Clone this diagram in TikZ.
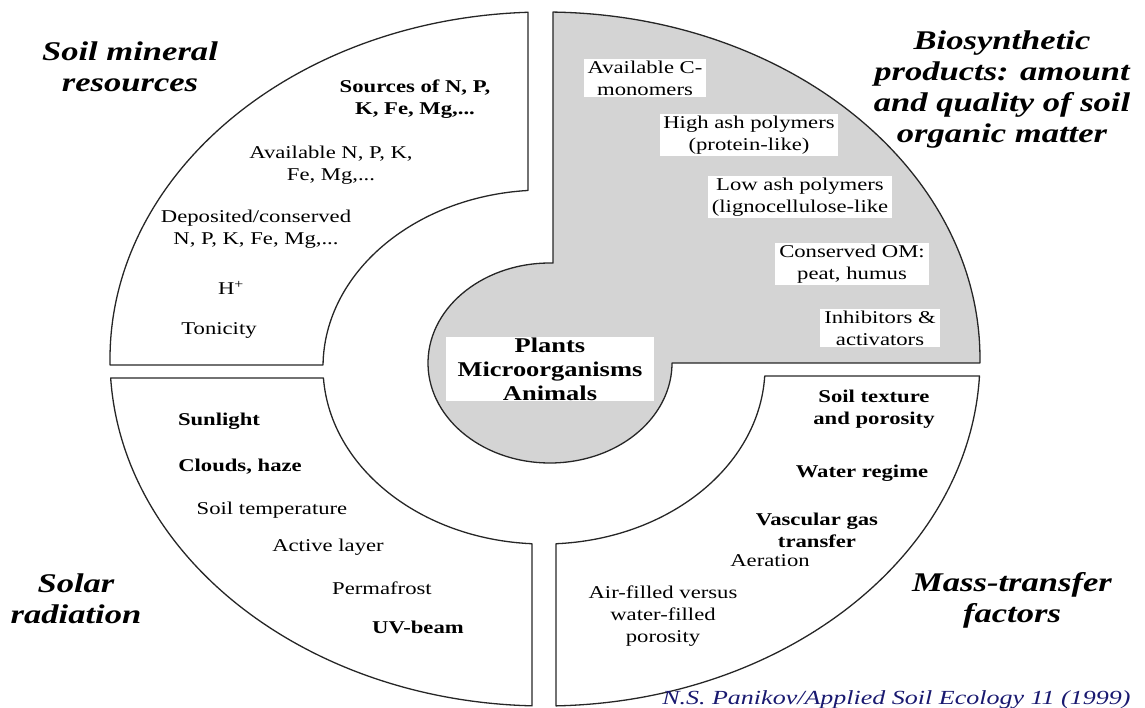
\documentclass[tikz,border=0pt]{standalone}
\usepackage{fontspec}
\setmainfont{Liberation Serif}
\definecolor{dotgray}{RGB}{212,212,212}
\definecolor{citeblue}{RGB}{25,25,112}
\begin{document}
\begin{tikzpicture}[x=1pt,y=-1pt,
  outl/.style={line width=1.3pt, draw=black!85, line join=round},
  body/.style={font=\fontsize{18}{22}\selectfont, align=center, xscale=1.26, inner sep=1pt},
  bodyb/.style={body, font=\bfseries\fontsize{18}{22}\selectfont},
  wbox/.style={body, fill=white, inner xsep=3pt, inner ysep=2pt},
  ttl/.style={font=\bfseries\itshape\fontsize{27}{31}\selectfont, align=center, xscale=1.28, inner sep=0pt},
]
\useasboundingbox (0,0) rectangle (1145,708);

% top-left sector
\draw[outl] ([shift={(545,359)}]179.01:435 and 347)
  arc[start angle=179.01, end angle=267.76, x radius=435, y radius=347]
  -- ([shift={(544,367)}]265.85:221 and 177)
  arc[start angle=265.85, end angle=180.65, x radius=221, y radius=177] -- cycle;
% bottom-left sector
\draw[outl] ([shift={(545,359)}]176.86:435 and 347)
  arc[start angle=176.86, end angle=91.71, x radius=435, y radius=347]
  -- ([shift={(544,367)}]93.11:221 and 177)
  arc[start angle=93.11, end angle=176.44, x radius=221, y radius=177] -- cycle;
% bottom-right sector
\draw[outl] ([shift={(545,359)}]2.81:435 and 347)
  arc[start angle=2.81, end angle=88.55, x radius=435, y radius=347]
  -- ([shift={(544,367)}]86.89:221 and 177)
  arc[start angle=86.89, end angle=2.91, x radius=221, y radius=177] -- cycle;
% grey sector with core
\filldraw[outl, fill=dotgray] ([shift={(545,359)}]271.05:435 and 347)
  -- ([shift={(550,363)}]271.41:122 and 100)
  arc[start angle=271.41, end angle=0, x radius=122, y radius=100]
  -- ([shift={(545,359)}]0.66:435 and 347)
  arc[start angle=0.66, end angle=-88.95, x radius=435, y radius=347] -- cycle;

% titles
\node[ttl] (tsoil) at (130,67) {Soil mineral\\resources};
\node[ttl] (tbio) at (1002,90) {Biosynthetic\\products: amount\\and quality of soil\\organic matter};
\node[ttl] (tsolar) at (76,599) {Solar\\radiation};
\node[ttl] (tmass) at (1012,600) {Mass-transfer\\factors};

% top-left texts
\node[bodyb] (src) at (415,99) {Sources of N, P,\\K, Fe, Mg,...};
\node[body] (avl) at (331,165) {Available N, P, K,\\Fe, Mg,...};
\node[body] (dep) at (256,229) {Deposited/conserved\\N, P, K, Fe, Mg,...};
\node[body] (hp) at (231,288) {H\textsuperscript{+}};
\node[body] (ton) at (219,330) {Tonicity};

% grey sector texts
\node[wbox] (cmono) at (645,78) {Available C-\\monomers};
\node[wbox] (hash) at (749,135) {High ash polymers\\(protein-like)};
\node[wbox] (lash) at (800,197) {Low ash polymers\\(lignocellulose-like};
\node[wbox] (com) at (852,264) {Conserved OM:\\peat, humus};
\node[wbox] (inh) at (880,328) {Inhibitors \&\\activators};

% core
\node[bodyb, font=\bfseries\fontsize{21}{24}\selectfont, fill=white, inner xsep=9pt, inner ysep=1pt] (core) at (550,369) {Plants\\Microorganisms\\Animals};

% bottom-left texts
\node[bodyb] (sun) at (219,421) {Sunlight};
\node[bodyb] (cloud) at (240,467) {Clouds, haze};
\node[body] (stemp) at (272,510) {Soil temperature};
\node[body] (act) at (328,547) {Active layer};
\node[body] (perm) at (382,588) {Permafrost};
\node[bodyb] (uv) at (418,627) {UV-beam};

% bottom-right texts
\node[bodyb] (tex) at (874,409) {Soil texture\\and porosity};
\node[bodyb] (water) at (862,473) {Water regime};
\node[bodyb] (vasc) at (817,530) {Vascular gas\\transfer};
\node[body] (aer) at (770,561) {Aeration};
\node[body] (air) at (663,616) {Air-filled versus\\water-filled\\porosity};

% citation
\node[font=\itshape\fontsize{20}{22}\selectfont, text=citeblue, anchor=base west, xscale=1.3, inner sep=0pt] (cite) at (662,704) {N.S. Panikov/Applied Soil Ecology 11 (1999)};
\end{tikzpicture}
\end{document}
